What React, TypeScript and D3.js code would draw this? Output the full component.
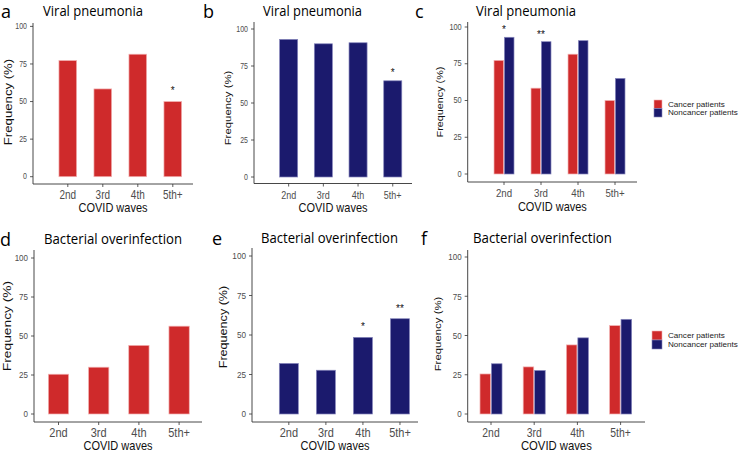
import React from "react";
import * as d3 from "d3";

// values
const waves = ["2nd", "3rd", "4th", "5th+"];
const yTicks = [0, 25, 50, 75, 100];
const groups = ["Cancer patients", "Noncancer patients"];

const viralCancer = [77.3, 58.4, 81.5, 50];
const viralNoncancer = [93, 90, 90.7, 65];
const bactCancer = [25.5, 30, 44, 56.3];
const bactNoncancer = [32, 27.7, 48.5, 60.3];

const viralCancerSig = ["", "", "", "*"];
const viralNoncancerSig = ["", "", "", "*"];
const viralCompareSig = ["*", "**", "", ""];
const bactCancerSig = ["", "", "", ""];
const bactNoncancerSig = ["", "", "*", "**"];
const bactCompareSig = ["", "", "", ""];

const RED = "#cf2a2b";
const BLUE = "#1b1a6d";
const fills = [RED, BLUE];
const strokes = ["#f2b3b3", "#8585bb"];
const SANS = "'Liberation Sans', Arial, sans-serif";
const TITLE = "'Open Sans', 'Noto Sans', sans-serif";
const SY = 1.2; // the figure was stretched vertically

interface PanelProps {
  letter: string;
  title: string;
  series: number[][];
  sig: string[];
  lay: any;
}

function Panel({ letter, title, series, sig, lay }: PanelProps) {
  const y = d3.scaleLinear().domain([0, 100]).range([lay.y0, lay.y100]);
  const x = d3.scaleBand<string>()
    .domain(waves)
    .range([lay.r0, lay.r1])
    .paddingInner(lay.pad)
    .paddingOuter(lay.pad / 2);
  const inner = d3.scaleBand<number>()
    .domain(d3.range(series.length))
    .range([0, x.bandwidth()])
    .paddingInner(series.length > 1 ? 0.08 : 0);

  return (
    <g>
      <text x={lay.letterX} y={lay.titleY + 3} fontFamily={TITLE} fontWeight={400} fontSize={18} fill="#000">{letter}</text>
      <text x={lay.titleX} y={lay.titleY + 1} fontFamily={TITLE} fontWeight={400} fontSize={14} fill="#000"
        textLength={lay.titleW} lengthAdjust="spacingAndGlyphs">{title}</text>

      {/* bars */}
      {series.map((vals, s) =>
        vals.map((v, i) => (
          <rect key={`${s}-${i}`}
            x={(x(waves[i]) || 0) + (inner(s) || 0)}
            y={y(v)}
            width={inner.bandwidth()}
            height={y(0) - y(v)}
            fill={series.length > 1 ? fills[s] : lay.color}
            stroke={series.length > 1 ? strokes[s] : lay.stroke}
            strokeWidth={0.7} />
        ))
      )}

      {/* significance marks */}
      {sig.map((t, i) => {
        if (!t) return null;
        const top = d3.max(series, vals => vals[i]) || 0;
        return (
          <text key={`sig-${i}`} x={(x(waves[i]) || 0) + x.bandwidth() / 2} y={y(top) - lay.sigGap}
            textAnchor="middle" fontFamily={SANS} fontSize={10} fill="#111">{t}</text>
        );
      })}

      {/* y axis */}
      <line x1={lay.axisX} x2={lay.axisX} y1={lay.yTop} y2={lay.xAxisY} stroke="#333" strokeWidth={0.9} />
      {yTicks.map(t => (
        <g key={`yt-${t}`}>
          <line x1={lay.axisX - 3} x2={lay.axisX} y1={y(t)} y2={y(t)} stroke="#333" strokeWidth={0.8} />
          <text transform={`translate(${lay.axisX - 6},${y(t)}) scale(1,${SY})`} textAnchor="end"
            dominantBaseline="central" fontFamily={SANS} fontSize={lay.yTickSize} fill="#4d4d4d">{t}</text>
        </g>
      ))}
      <text transform={`translate(${lay.yLabX},${lay.yLabY}) scale(1,${SY}) rotate(-90)`} textAnchor="middle"
        dominantBaseline="central" fontFamily={SANS} fontSize={lay.yLabSize} fill="#111">Frequency (%)</text>

      {/* x axis */}
      <line x1={lay.axisX} x2={lay.xEnd} y1={lay.xAxisY} y2={lay.xAxisY} stroke="#333" strokeWidth={0.9} />
      {waves.map(w => {
        const cx = (x(w) || 0) + x.bandwidth() / 2;
        return (
          <g key={`xt-${w}`}>
            <line x1={cx} x2={cx} y1={lay.xAxisY} y2={lay.xAxisY + 3} stroke="#333" strokeWidth={0.8} />
            <text transform={`translate(${cx},${lay.xTickY}) scale(1,${SY})`} textAnchor="middle"
              dominantBaseline="central" fontFamily={SANS} fontSize={lay.xTickSize} fill="#4d4d4d">{w}</text>
          </g>
        );
      })}
      <text transform={`translate(${(lay.axisX + lay.xEnd) / 2 + lay.xLabDx},${lay.xLabY}) scale(1,${lay.xLabSY})`}
        textAnchor="middle" dominantBaseline="central" fontFamily={SANS} fontSize={lay.xLabSize} fill="#111">COVID waves</text>

      {/* legend */}
      {lay.legend && groups.map((g, s) => (
        <g key={`lg-${s}`}>
          <rect x={lay.legend.x} y={lay.legend.y + s * lay.legend.h} width={lay.legend.w} height={lay.legend.h}
            fill={fills[s]} stroke={strokes[s]} strokeWidth={0.6} />
          <text x={lay.legend.x + lay.legend.w + 6} y={lay.legend.y + (s + 0.5) * lay.legend.h}
            dominantBaseline="central" fontFamily={SANS} fontSize={8.1} fill="#222">{g}</text>
        </g>
      ))}
    </g>
  );
}

const layA = {
  letterX: 1, titleX: 43, titleW: 100, titleY: 15, axisX: 33, yTop: 23, y0: 176.7, y100: 26.4,
  xAxisY: 184, xEnd: 193, r0: 50.3, r1: 190.3, pad: 0.494, color: RED, stroke: strokes[0], sigGap: 8,
  yTickSize: 7, yLabX: 8, yLabY: 102, yLabSize: 11, xTickY: 195, xTickSize: 10, xLabY: 208, xLabSize: 11, xLabSY: 1.2, xLabDx: 0,
};
const layB = {
  letterX: 203, titleX: 263, titleW: 99, titleY: 15, axisX: 254, yTop: 22, y0: 177, y100: 29,
  xAxisY: 183.5, xEnd: 412, r0: 271.3, r1: 410.1, pad: 0.48, color: BLUE, stroke: strokes[1], sigGap: 5,
  yTickSize: 7, yLabX: 228, yLabY: 108, yLabSize: 9.5, xTickY: 195, xTickSize: 9, xLabY: 208, xLabSize: 11, xLabSY: 1.2, xLabDx: 0,
};
const layC = {
  letterX: 415, titleX: 476, titleW: 100, titleY: 15, axisX: 467.7, yTop: 22, y0: 174, y100: 27,
  xAxisY: 182, xEnd: 637, r0: 485.5, r1: 633.5, pad: 0.46, sigGap: 4,
  yTickSize: 7.4, yLabX: 440, yLabY: 102, yLabSize: 9, xTickY: 193, xTickSize: 9.7, xLabY: 207, xLabSize: 11, xLabSY: 1.2, xLabDx: 0,
  legend: { x: 654, y: 100, w: 8, h: 8.5 },
};
const layD = {
  letterX: 0, titleX: 44, titleW: 138, titleY: 242.5, axisX: 34, yTop: 250, y0: 414, y100: 258,
  xAxisY: 422, xEnd: 202, r0: 38.4, r1: 199.2, pad: 0.495, color: RED, stroke: strokes[0], sigGap: 6,
  yTickSize: 8, yLabX: 7, yLabY: 326, yLabSize: 11.5, xTickY: 433, xTickSize: 11, xLabY: 445.5, xLabSize: 11, xLabSY: 1.1, xLabDx: 0,
};
const layE = {
  letterX: 212, titleX: 261, titleW: 137, titleY: 242, axisX: 252, yTop: 248, y0: 414, y100: 256,
  xAxisY: 422, xEnd: 418, r0: 270.3, r1: 418.5, pad: 0.487, color: BLUE, stroke: strokes[1], sigGap: 7,
  yTickSize: 8.2, yLabX: 223, yLabY: 327, yLabSize: 10.5, xTickY: 433, xTickSize: 11, xLabY: 445.8, xLabSize: 11, xLabSY: 1.1, xLabDx: 0,
};
const layF = {
  letterX: 421, titleX: 473, titleW: 139, titleY: 242, axisX: 467.7, yTop: 250, y0: 414, y100: 257,
  xAxisY: 422, xEnd: 645, r0: 469.4, r1: 642.2, pad: 0.49, sigGap: 5,
  yTickSize: 8, yLabX: 438, yLabY: 334, yLabSize: 9.5, xTickY: 433, xTickSize: 10.4, xLabY: 445.5, xLabSize: 11.3, xLabSY: 1.1, xLabDx: 0,
  legend: { x: 652, y: 331, w: 10, h: 9 },
};

export default function App() {
  return (
    <svg width={746} height={452} style={{ position: "absolute", left: 0, top: 0, background: "#fff" }}>
      <Panel letter="a" title="Viral pneumonia" series={[viralCancer]} sig={viralCancerSig} lay={layA} />
      <Panel letter="b" title="Viral pneumonia" series={[viralNoncancer]} sig={viralNoncancerSig} lay={layB} />
      <Panel letter="c" title="Viral pneumonia" series={[viralCancer, viralNoncancer]} sig={viralCompareSig} lay={layC} />
      <Panel letter="d" title="Bacterial overinfection" series={[bactCancer]} sig={bactCancerSig} lay={layD} />
      <Panel letter="e" title="Bacterial overinfection" series={[bactNoncancer]} sig={bactNoncancerSig} lay={layE} />
      <Panel letter="f" title="Bacterial overinfection" series={[bactCancer, bactNoncancer]} sig={bactCompareSig} lay={layF} />
    </svg>
  );
}
